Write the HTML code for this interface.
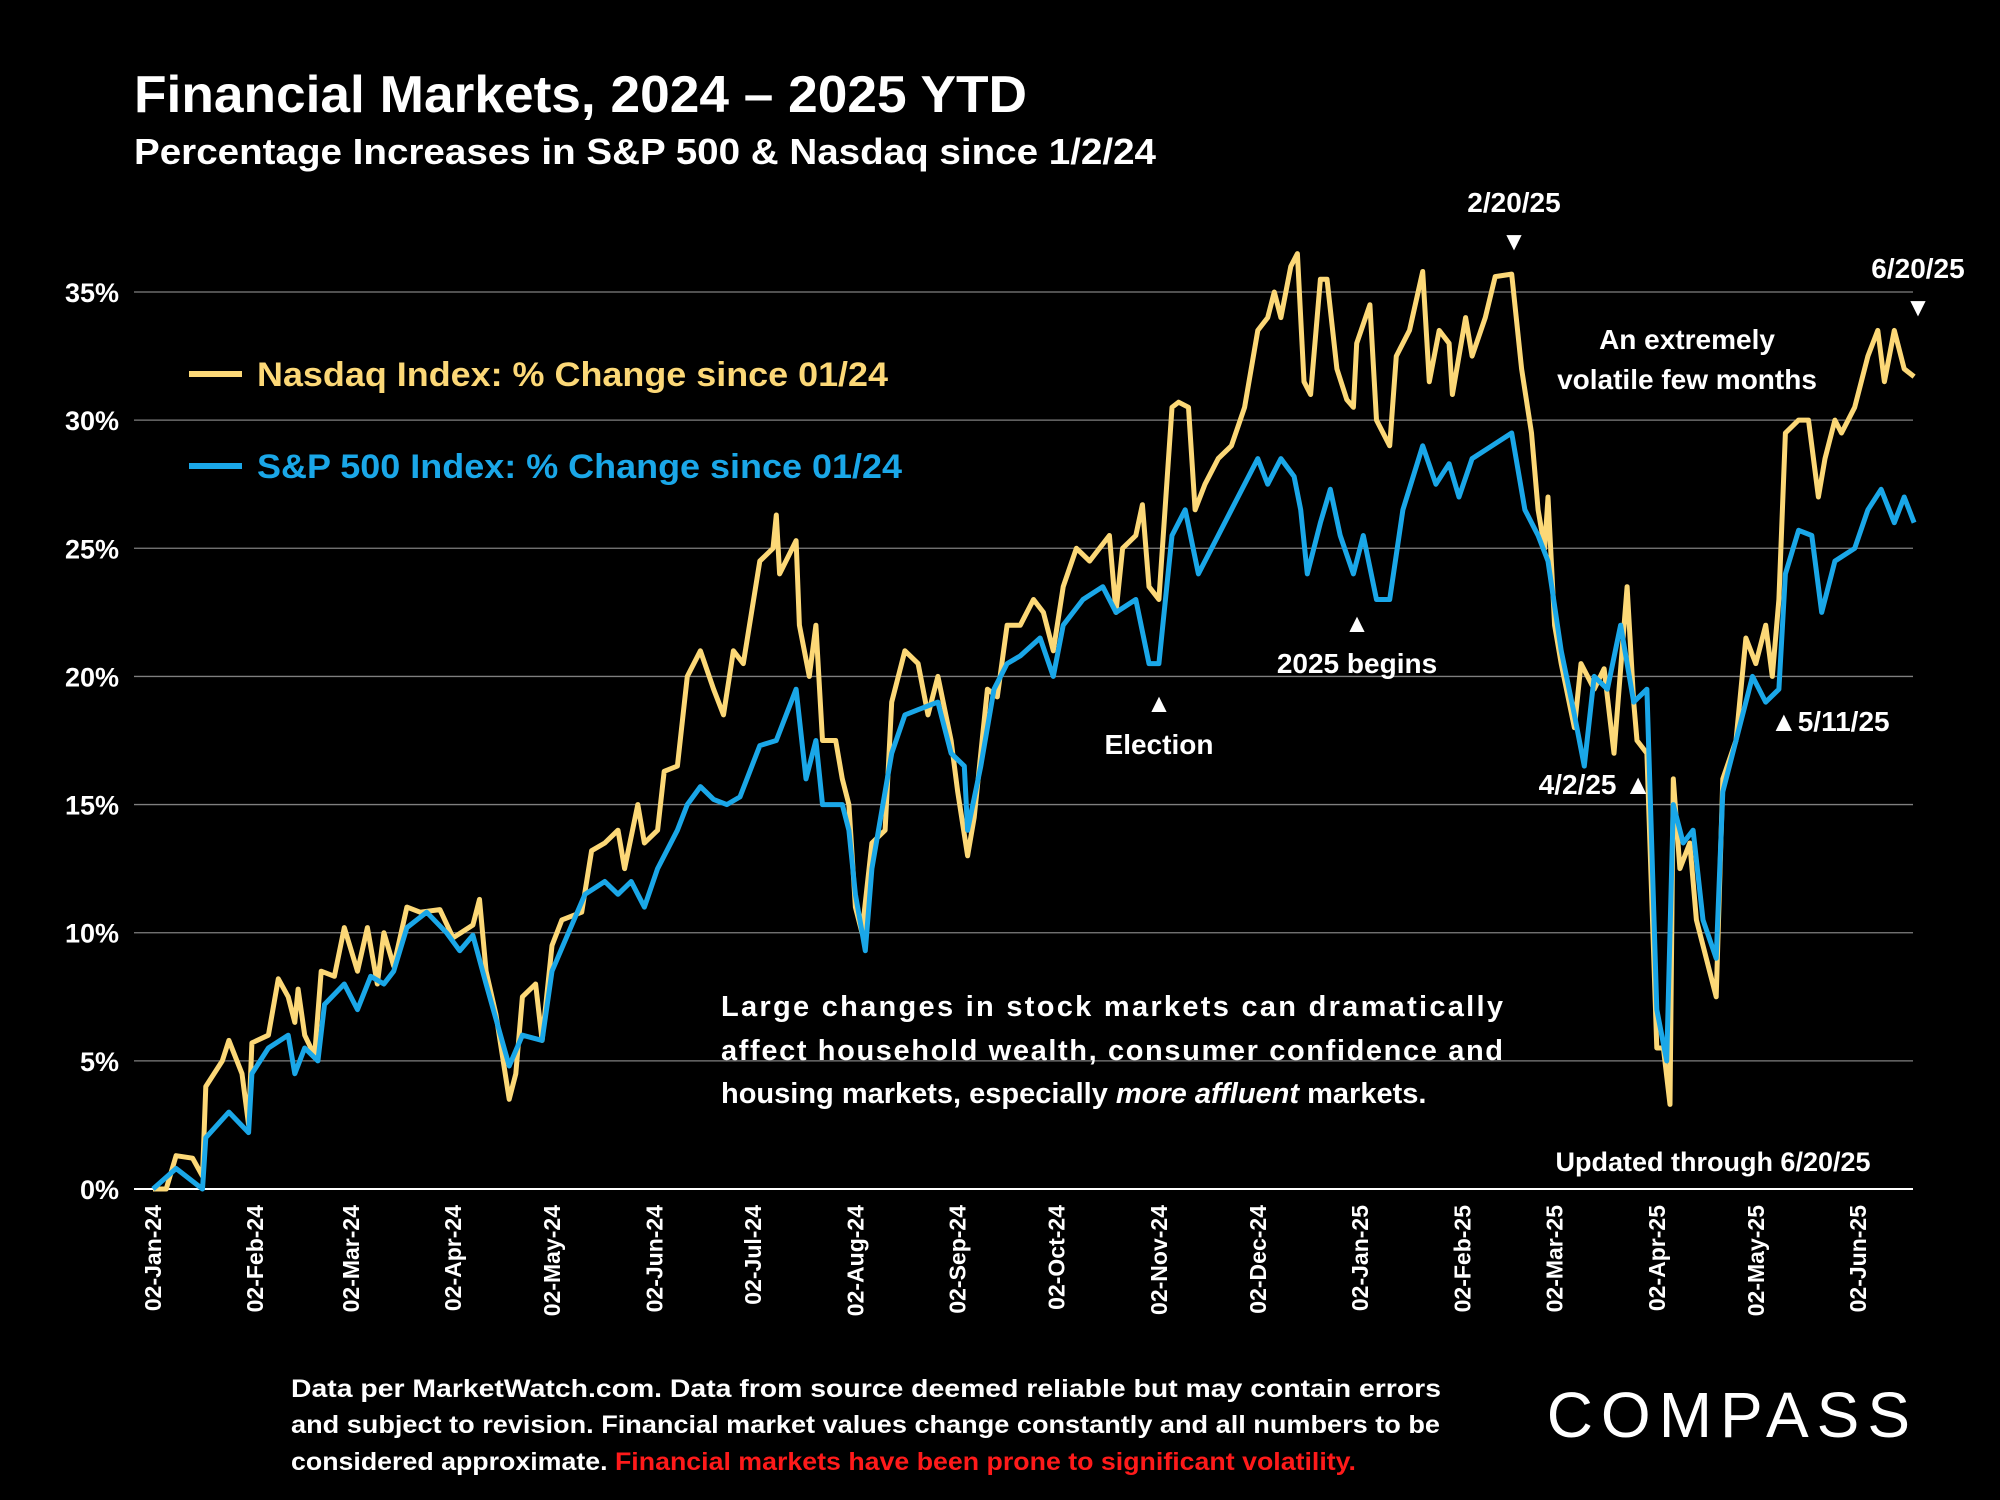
<!DOCTYPE html>
<html><head><meta charset="utf-8"><style>
html,body{margin:0;padding:0;background:#000;}
svg{display:block;font-family:"Liberation Sans",sans-serif;font-weight:bold;}
</style></head><body>
<svg id="chart" width="2000" height="1500" viewBox="0 0 2000 1500">
<rect width="2000" height="1500" fill="#000"/>
<text x="134" y="112" fill="#fff" font-size="52" textLength="893" lengthAdjust="spacingAndGlyphs">Financial Markets, 2024 – 2025 YTD</text>
<text x="134" y="164" fill="#fff" font-size="36" textLength="1022" lengthAdjust="spacingAndGlyphs">Percentage Increases in S&amp;P 500 &amp; Nasdaq since 1/2/24</text>
<g id="grid"></g>
<g id="yticks"></g>
<g id="xticks"></g>
<g id="series"></g>
<g>
<line x1="189" y1="374" x2="242" y2="374" stroke="#fcd877" stroke-width="6"/>
<text x="257" y="386" fill="#fcd877" font-size="34" textLength="631" lengthAdjust="spacingAndGlyphs">Nasdaq Index: % Change since 01/24</text>
<line x1="189" y1="466" x2="242" y2="466" stroke="#1aa7e8" stroke-width="6"/>
<text x="257" y="478" fill="#1aa7e8" font-size="34" textLength="645" lengthAdjust="spacingAndGlyphs">S&amp;P 500 Index: % Change since 01/24</text>
</g>
<g fill="#fff" font-size="28" text-anchor="middle">
<text x="1514" y="212">2/20/25</text>
<text x="1514" y="250" font-size="26">▼</text>
<text x="1918" y="278">6/20/25</text>
<text x="1918" y="316" font-size="26">▼</text>
<text x="1687" y="349">An extremely</text>
<text x="1687" y="389">volatile few months</text>
<text x="1159" y="754">Election</text>
<text x="1159" y="712" font-size="26">▲</text>
<text x="1357" y="673">2025 begins</text>
<text x="1357" y="632" font-size="26">▲</text>
<text x="1652" y="794" text-anchor="end">4/2/25 ▲</text>
<text x="1770" y="731" text-anchor="start">▲5/11/25</text>
<text x="1713" y="1171" font-size="27">Updated through 6/20/25</text>
</g>
<g fill="#fff" font-size="29">
<text x="721" y="1016" textLength="782" lengthAdjust="spacing">Large changes in stock markets can dramatically</text>
<text x="721" y="1060" textLength="782" lengthAdjust="spacing">affect household wealth, consumer confidence and</text>
<text x="721" y="1103">housing markets, especially <tspan font-style="italic">more affluent</tspan> markets.</text>
</g>
<g fill="#fff" font-size="25">
<text x="291" y="1397" textLength="1150" lengthAdjust="spacingAndGlyphs">Data per MarketWatch.com. Data from source deemed reliable but may contain errors</text>
<text x="291" y="1433" textLength="1149" lengthAdjust="spacingAndGlyphs">and subject to revision. Financial market values change constantly and all numbers to be</text>
<text x="291" y="1470" textLength="1065" lengthAdjust="spacingAndGlyphs">considered approximate. <tspan fill="#ff1a1a">Financial markets have been prone to significant volatility.</tspan></text>
</g>
<text x="1918" y="1437" fill="#fff" font-size="64" font-weight="normal" text-anchor="end" letter-spacing="8">COMPASS</text>
</svg>
<script>
const yTickValues=[0,5,10,15,20,25,30,35];
const xTickLabels=["02-Jan-24","02-Feb-24","02-Mar-24","02-Apr-24","02-May-24","02-Jun-24","02-Jul-24","02-Aug-24","02-Sep-24","02-Oct-24","02-Nov-24","02-Dec-24","02-Jan-25","02-Feb-25","02-Mar-25","02-Apr-25","02-May-25","02-Jun-25"];
const xTickDays=[0,31,60,91,121,152,182,213,244,274,305,335,366,397,425,456,486,517];
const nasdaqDays=[0,4,7,12,15,16,21,23,27,29,30,35,38,41,43,44,46,49,51,55,58,62,65,68,70,73,77,81,87,91,97,99,101,104,108,110,112,116,118,121,124,130,133,137,141,143,147,149,153,155,159,162,166,170,173,176,179,184,188,189,190,195,196,199,201,203,207,209,211,213,215,218,222,224,228,232,235,238,242,244,247,249,253,256,259,263,267,270,273,276,280,284,290,292,294,298,300,302,305,309,311,314,316,319,323,327,331,335,338,340,342,345,347,349,351,354,356,359,362,364,365,369,371,375,377,381,385,387,390,393,394,398,400,404,407,412,415,418,420,422,423,425,427,431,433,437,440,443,447,449,450,453,456,458,460,461,463,466,468,470,472,474,476,480,483,486,489,491,493,495,499,502,505,507,510,512,516,520,523,525,528,531,534];
const nasdaqValues=[0,0,1.3,1.2,0.5,4,5,5.8,4.5,2.5,5.7,6,8.2,7.5,6.5,7.8,6,5.2,8.5,8.3,10.2,8.5,10.2,8,10,8.7,11,10.8,10.9,9.8,10.3,11.3,8.5,6.8,3.5,4.5,7.5,8,5.8,9.5,10.5,10.8,13.2,13.5,14,12.5,15,13.5,14,16.3,16.5,20,21,19.5,18.5,21,20.5,24.5,25,26.3,24,25.3,22,20,22,17.5,17.5,16,15,11,10,13.5,14,19,21,20.5,18.5,20,17.5,15.5,13,14.5,19.5,19.2,22,22,23,22.5,21,23.5,25,24.5,25.5,22.5,25,25.5,26.7,23.5,23,30.5,30.7,30.5,26.5,27.5,28.5,29,30.5,33.5,34,35,34,36,36.5,31.5,31,35.5,35.5,32,30.8,30.5,33,34.5,30,29,32.5,33.5,35.8,31.5,33.5,33,31,34,32.5,34,35.6,35.7,32,29.5,26.5,25,27,22,20.5,18,20.5,19.5,20.3,17,23.5,19,17.5,17,5.5,5.5,3.3,16,12.5,13.5,10.5,9.5,8.5,7.5,16,17.5,21.5,20.5,22,20,23,29.5,30,30,27,28.5,30,29.5,30.5,32.5,33.5,31.5,33.5,32,31.7];
const spDays=[0,7,15,16,23,29,30,35,41,43,46,50,52,58,62,66,70,73,77,83,89,93,97,101,108,112,118,121,126,131,137,141,145,149,153,159,162,166,170,174,178,184,189,195,198,201,203,209,211,213,216,218,224,228,232,238,242,246,247,251,255,259,263,269,273,276,282,288,292,298,302,305,309,313,317,323,327,335,338,342,346,348,350,354,357,360,364,367,371,375,379,385,389,393,396,400,406,412,416,420,423,427,431,434,437,441,445,449,453,456,459,461,464,467,470,474,476,480,485,489,493,495,499,503,506,510,516,520,524,528,531,534];
const spValues=[0,0.8,0,2,3,2.2,4.5,5.5,6,4.5,5.5,5,7.2,8,7,8.3,8,8.5,10.2,10.8,10,9.3,9.9,8,4.8,6,5.8,8.5,10,11.5,12,11.5,12,11,12.5,14,15,15.7,15.2,15,15.3,17.3,17.5,19.5,16,17.5,15,15,14,11.5,9.3,12.5,17,18.5,18.7,19,17,16.5,14,16.5,19.5,20.5,20.8,21.5,20,22,23,23.5,22.5,23,20.5,20.5,25.5,26.5,24,25.5,26.5,28.5,27.5,28.5,27.8,26.5,24,26,27.3,25.5,24,25.5,23,23,26.5,29,27.5,28.3,27,28.5,29,29.5,26.5,25.5,24.5,21,18.5,16.5,20,19.5,22,19,19.5,7,5,15,13.5,14,10.5,9,15.5,17.5,20,19,19.5,24,25.7,25.5,22.5,24.5,25,26.5,27.3,26,27,26];

const NS='http://www.w3.org/2000/svg';
const X0=153, PXD=(1858-153)/517, Y0=1189, PXP=(1189-292)/35;
const xs=d=>X0+d*PXD, ys=v=>Y0-v*PXP;
function mk(tag,attrs,parent){const e=document.createElementNS(NS,tag);for(const k in attrs)e.setAttribute(k,attrs[k]);parent.appendChild(e);return e;}
const grid=document.getElementById('grid'),yt=document.getElementById('yticks'),xt=document.getElementById('xticks'),ser=document.getElementById('series');
yTickValues.forEach(v=>{
  const l=mk('line',{x1:134,x2:1913,y1:ys(v),y2:ys(v),stroke:v===0?'#ffffff':'#7f7f7f','stroke-width':v===0?2:1.3},grid);
  
  
  const t=mk('text',{x:119,y:ys(v)+10,fill:'#fff','font-size':27,'text-anchor':'end'},yt);
  t.textContent=v+'%';
  
  
});
xTickLabels.forEach((lab,i)=>{
  const x=xs(xTickDays[i]);
  const t=mk('text',{x:0,y:0,fill:'#fff','font-size':23,'text-anchor':'end',transform:`translate(${x+8},1205) rotate(-90)`},xt);
  t.textContent=lab;
  
  
});
function line(days,vals,color,name){
  const d=days.map((dd,i)=>(i?'L':'M')+xs(dd).toFixed(1)+','+ys(vals[i]).toFixed(1)).join('');
  const p=mk('path',{d:d,fill:'none',stroke:color,'stroke-width':5,'stroke-linejoin':'round'},ser);
  
  
}
line(nasdaqDays,nasdaqValues,'#fcd877','nasdaq-line');
line(spDays,spValues,'#1aa7e8','sp500-line');
</script>
</body></html>
